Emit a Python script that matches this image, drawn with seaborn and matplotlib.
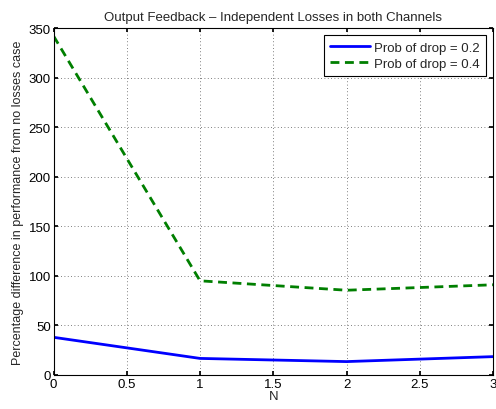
import matplotlib
matplotlib.use("Agg")
import matplotlib.pyplot as plt
import seaborn as sns
import pandas as pd

N = [0, 1, 2, 3]
drop_02 = [38, 16.7, 13.5, 18.5]
drop_04 = [342, 95, 85.5, 91]
labels = ["Prob of drop = 0.2", "Prob of drop = 0.4"]

sns.set_theme(style="white")
plt.rcParams['font.family'] = ['Liberation Sans', 'DejaVu Sans']
fs = 9.5

df = pd.DataFrame({"N": N * 2,
                   "val": drop_02 + drop_04,
                   "series": [labels[0]] * 4 + [labels[1]] * 4})

fig = plt.figure(figsize=(4.96, 4.10), dpi=100)
ax = fig.add_axes([0.108, 0.083, 0.886, 0.846])
sns.lineplot(data=df, x="N", y="val", hue="series", style="series",
             palette=["#0000ff", "#007f00"], dashes=[(None, None), (3.2, 2.0)],
             linewidth=2, ax=ax, legend=True)
ax.set_xlim(0, 3)
ax.set_ylim(0, 350)
ax.set_xticks([0, 0.5, 1, 1.5, 2, 2.5, 3])
ax.set_xticklabels(["0", "0.5", "1", "1.5", "2", "2.5", "3"])
ax.set_yticks(range(0, 351, 50))
ax.grid(True, linestyle=(0, (1, 3)), color="#555555", linewidth=0.6)
ax.tick_params(direction="in", length=3, labelsize=fs, colors="black",
               top=True, right=True, bottom=True, left=True, pad=2)
for s in ax.spines.values():
    s.set_color("black")
    s.set_linewidth(0.8)
ax.set_xlabel("N", fontsize=fs, labelpad=0)
ax.set_ylabel("Percentage difference in performance from no losses case", fontsize=9, labelpad=3)
ax.set_title("Output Feedback – Independent Losses in both Channels", fontsize=fs, pad=6)
leg = ax.legend(loc="upper right", fontsize=fs, frameon=True, fancybox=False,
                edgecolor="black", framealpha=1, borderpad=0.45, handlelength=3.0,
                labelspacing=0.3, handletextpad=0.35, borderaxespad=0.55)
leg.get_frame().set_linewidth(0.8)
fig.savefig("out.png", dpi=100)
